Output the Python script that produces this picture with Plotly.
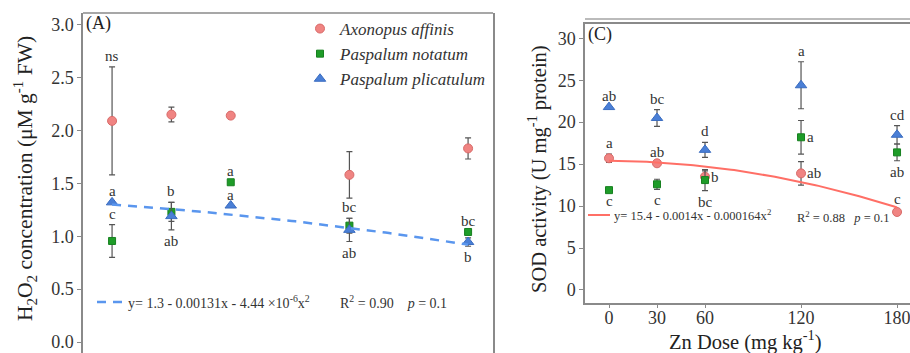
import numpy as np
import plotly.graph_objects as go

# ---------------- data ----------------
doses = [0, 30, 60, 120, 180]
species = ["Axonopus affinis", "Paspalum notatum", "Paspalum plicatulum"]

# Panel A: H2O2 concentration
h2o2_mean = {
    "Axonopus affinis": [2.09, 2.15, 2.14, 1.58, 1.83],
    "Paspalum notatum": [0.955, 1.23, 1.51, 1.10, 1.04],
    "Paspalum plicatulum": [1.32, 1.19, 1.29, 1.06, 0.945],
}
h2o2_err = {
    "Axonopus affinis": [0.51, 0.07, 0.0, 0.22, 0.1],
    "Paspalum notatum": [0.155, 0.09, 0.0, 0.07, 0.0],
    "Paspalum plicatulum": [0.0, 0.13, 0.0, 0.11, 0.04],
}
h2o2_labels = [  # species, dose index, letter, side
    ("Axonopus affinis", 0, "ns", "above"),
    ("Paspalum plicatulum", 0, "a", "above"),
    ("Paspalum notatum", 0, "c", "above"),
    ("Paspalum notatum", 1, "b", "above"),
    ("Paspalum plicatulum", 1, "ab", "below"),
    ("Paspalum notatum", 2, "a", "above"),
    ("Paspalum plicatulum", 2, "a", "above"),
    ("Paspalum notatum", 3, "bc", "above"),
    ("Paspalum plicatulum", 3, "ab", "below"),
    ("Paspalum notatum", 4, "bc", "above"),
    ("Paspalum plicatulum", 4, "b", "below"),
]
h2o2_fit = [1.3, -0.00131, -4.44e-6]

# Panel C: SOD activity
sod_mean = {
    "Axonopus affinis": [15.7, 15.1, 13.5, 13.9, 9.3],
    "Paspalum notatum": [11.9, 12.6, 13.1, 18.2, 16.4],
    "Paspalum plicatulum": [21.8, 20.5, 16.7, 24.4, 18.5],
}
sod_err = {
    "Axonopus affinis": [0.5, 0.0, 0.7, 1.4, 0.2],
    "Paspalum notatum": [0.0, 0.6, 1.25, 2.0, 1.0],
    "Paspalum plicatulum": [0.0, 1.0, 0.9, 2.8, 1.1],
}
sod_labels = [
    ("Paspalum plicatulum", 0, "ab", "above"),
    ("Paspalum plicatulum", 1, "bc", "above"),
    ("Paspalum plicatulum", 2, "d", "above"),
    ("Paspalum plicatulum", 3, "a", "above"),
    ("Paspalum plicatulum", 4, "cd", "above"),
    ("Paspalum notatum", 0, "c", "below"),
    ("Paspalum notatum", 1, "c", "below"),
    ("Paspalum notatum", 2, "bc", "below"),
    ("Paspalum notatum", 3, "a", "right"),
    ("Paspalum notatum", 4, "ab", "below"),
    ("Axonopus affinis", 0, "a", "above"),
    ("Axonopus affinis", 1, "ab", "above"),
    ("Axonopus affinis", 2, "b", "right"),
    ("Axonopus affinis", 3, "ab", "right"),
    ("Axonopus affinis", 4, "c", "above"),
]
sod_fit = [15.4, -0.0014, -0.000164]

# ---------------- styles ----------------
W, H = 910, 353
SERIF = "Liberation Serif, Times New Roman, serif"
colors = {"Axonopus affinis": "#F08482", "Paspalum notatum": "#1E9C28", "Paspalum plicatulum": "#4A7FD6"}
symbols = {"Axonopus affinis": "circle", "Paspalum notatum": "square", "Paspalum plicatulum": "triangle-up"}
sizes = {"Axonopus affinis": 9, "Paspalum notatum": 7, "Paspalum plicatulum": 10}
edge = {"Axonopus affinis": "#D86A68", "Paspalum notatum": "#178020", "Paspalum plicatulum": "#3A6CC0"}
frame = "#8A8A8A"


def px_x(p):
    return p / W


def px_y(p):
    return (H - p) / H


fig = go.Figure()

for panel, means, errs, xa, ya in [("A", h2o2_mean, h2o2_err, "x", "y"), ("C", sod_mean, sod_err, "x2", "y2")]:
    for sp in species:
        fig.add_trace(go.Scatter(
            x=doses, y=means[sp], mode="markers", xaxis=xa, yaxis=ya,
            name="<i>%s</i>" % sp, showlegend=(panel == "A"),
            marker=dict(symbol=symbols[sp], size=sizes[sp], color=colors[sp],
                        line=dict(color=edge[sp], width=1)),
            error_y=dict(type="data", array=errs[sp], visible=True, color="#555555",
                         thickness=1.2, width=3),
        ))

xs = np.linspace(0, 180, 100)
fig.add_trace(go.Scatter(x=xs, y=h2o2_fit[0] + h2o2_fit[1] * xs + h2o2_fit[2] * xs ** 2,
                         mode="lines", xaxis="x", yaxis="y", showlegend=False,
                         line=dict(color="#5A96EE", width=2.5, dash="9px,7px")))
fig.add_trace(go.Scatter(x=xs, y=sod_fit[0] + sod_fit[1] * xs + sod_fit[2] * xs ** 2,
                         mode="lines", xaxis="x2", yaxis="y2", showlegend=False,
                         line=dict(color="#FF6F66", width=2)))

ann = []
lab_font = dict(family=SERIF, size=15, color="#333333")
for labels, means, errs, xr, yr in [(h2o2_labels, h2o2_mean, h2o2_err, "x", "y"),
                                   (sod_labels, sod_mean, sod_err, "x2", "y2")]:
    for sp, i, txt, side in labels:
        m, e = means[sp][i], errs[sp][i]
        if side == "above":
            ann.append(dict(x=doses[i], y=m + e, xref=xr, yref=yr, text=txt, showarrow=False,
                            xanchor="center", yanchor="bottom", yshift=1, font=lab_font))
        elif side == "below":
            ann.append(dict(x=doses[i], y=m - e, xref=xr, yref=yr, text=txt, showarrow=False,
                            xanchor="center", yanchor="top", yshift=-1, font=lab_font))
        else:
            ann.append(dict(x=doses[i], y=m, xref=xr, yref=yr, text=txt, showarrow=False,
                            xanchor="left", yanchor="middle", xshift=4, font=lab_font))


def pann(x, y, text, size, xanchor="left", yanchor="middle", angle=0, color="#333333"):
    ann.append(dict(x=px_x(x), y=px_y(y), xref="paper", yref="paper", text=text, showarrow=False,
                    xanchor=xanchor, yanchor=yanchor, textangle=angle,
                    font=dict(family=SERIF, size=size, color=color)))


# panel letters
pann(84, 24, "(A)", 18, color="#222222")
pann(586, 35, "(C)", 18, color="#222222")

# equations
pann(126, 302, "y= 1.3 - 0.00131x - 4.44 ×10<sup>-6</sup>x<sup>2</sup>", 14)
pann(338, 302, "R<sup>2</sup> = 0.90&nbsp;&nbsp;&nbsp;&nbsp;<i>p</i> = 0.1", 14)
pann(612, 215, "y= 15.4 - 0.0014x - 0.000164x<sup>2</sup>", 12.5)
pann(795, 217, "R<sup>2</sup> = 0.88&nbsp;&nbsp;&nbsp;<i>p</i> = 0.1", 12.5)

# axis titles
pann(25, 179, "H<sub>2</sub>O<sub>2</sub> concentration (μM g<sup>-1</sup> FW)", 21.5,
     xanchor="center", angle=-90, color="#222222")
pann(537, 169, "SOD activity (U mg<sup>-1</sup> protein)", 20.5, xanchor="center", angle=-90,
     color="#222222")
pann(745, 340, "Zn Dose (mg kg<sup>-1</sup>)", 20.5, xanchor="center", color="#222222")

shapes = [
    # left panel top line
    dict(type="line", xref="paper", yref="paper", x0=px_x(83), x1=px_x(493), y0=px_y(13), y1=px_y(13),
         line=dict(color=frame, width=1.5)),
    # legend-line samples for fits
    dict(type="line", xref="paper", yref="paper", x0=px_x(97), x1=px_x(124), y0=px_y(302), y1=px_y(302),
         line=dict(color="#5A96EE", width=2.5, dash="9px,7px")),
    dict(type="line", xref="paper", yref="paper", x0=px_x(588), x1=px_x(610), y0=px_y(215), y1=px_y(215),
         line=dict(color="#FF6F66", width=2)),
    # extra line above panel C
    dict(type="line", xref="paper", yref="paper", x0=px_x(585), x1=1, y0=px_y(19), y1=px_y(19),
         line=dict(color="#BBBBBB", width=2)),
]

tick_font = dict(family=SERIF, size=18, color="#333333")
fig.update_layout(
    width=W, height=H, margin=dict(l=0, r=0, t=0, b=0),
    paper_bgcolor="white", plot_bgcolor="white",
    showlegend=True,
    legend=dict(x=px_x(300), y=px_y(11), xanchor="left", yanchor="top",
                font=dict(family=SERIF, size=17, color="#333333"),
                bgcolor="rgba(0,0,0,0)", itemwidth=30, tracegroupgap=0),
    annotations=ann, shapes=shapes,
    xaxis=dict(domain=[px_x(83), px_x(493)], range=[-14.7, 192.6], showline=False,
               showticklabels=False, ticks="", showgrid=False, zeroline=False),
    yaxis=dict(domain=[0, px_y(13)], range=[-0.104, 3.11], showline=True, linecolor=frame,
               linewidth=1.5, mirror=True, ticks="outside", ticklen=4, tickcolor=frame,
               tickvals=[0, 0.5, 1.0, 1.5, 2.0, 2.5, 3.0], tickformat=".1f",
               tickfont=tick_font, showgrid=False, zeroline=False),
    xaxis2=dict(domain=[px_x(585), 1], range=[-15, 188.1], anchor="y2", showline=True,
                linecolor=frame, linewidth=1.5, mirror=True, ticks="outside", ticklen=3,
                tickcolor=frame, tickvals=doses, tickfont=tick_font, showgrid=False,
                zeroline=False, ticklabeloverflow="allow", ticklabelstandoff=-5),
    yaxis2=dict(domain=[px_y(303), px_y(24)], range=[-1.55, 31.7], anchor="x2", showline=True,
                linecolor=frame, linewidth=1.5, ticks="outside", ticklen=4, tickcolor=frame,
                tickvals=[0, 5, 10, 15, 20, 25, 30], tickfont=tick_font, showgrid=False,
                zeroline=False),
)

fig.write_html("out.html")
